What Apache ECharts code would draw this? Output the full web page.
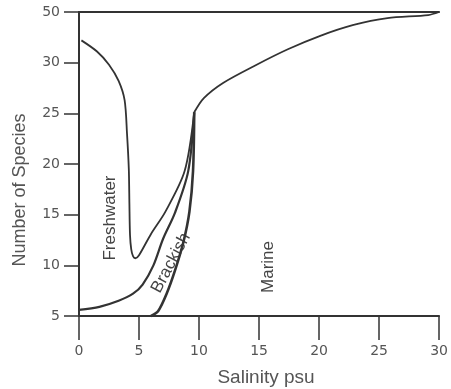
<!DOCTYPE html>
<html>
<head>
<meta charset="utf-8">
<script src="https://cdn.jsdelivr.net/npm/echarts@6/dist/echarts.min.js"></script>
<style>
  html, body { margin: 0; padding: 0; background: #fff; }
  #chart { width: 451px; height: 389px; }
</style>
</head>
<body>
<div id="chart"></div>
<script>
// salinity ticks and species ticks (the y axis is broken between 30 and 50)
var xTicks = [0, 5, 10, 15, 20, 25, 30];
var yTicks = [5, 10, 15, 20, 25, 30, 50];
var yBreakGap = [30.9, 32.9]; // gap in the left axis line, axis units

// curves as [salinity, number of species]
var freshwater = [[0.2, 38.8], [1.5, 34.4], [2.5, 29.8], [3.3, 28.2], [3.8, 26.3], [4.0, 23.0],
  [4.15, 19.5], [4.2, 16.0], [4.25, 13.0], [4.35, 11.6], [4.5, 10.9], [4.7, 10.7],
  [5.0, 11.0], [6.0, 13.1], [7.2, 15.3], [8.8, 19.3], [9.6, 25.1]];
var brackishUpper = [[0, 5.6], [1.7, 5.9], [3.3, 6.5], [4.5, 7.2], [5.3, 8.1], [6.2, 10.0],
  [7.0, 12.6], [8.0, 15.2], [9.1, 19.3], [9.6, 25.1]];
var brackishLower = [[6.0, 5.0], [6.6, 5.5], [7.3, 7.2], [8.0, 9.5], [8.7, 12.3], [9.2, 15.3],
  [9.5, 19.3], [9.6, 25.1]];
var marine = [[9.6, 25.1], [10.4, 26.5], [12.0, 28.0], [14.8, 29.8], [17.4, 35.3], [20.1, 40.6],
  [22.8, 44.8], [25.7, 47.6], [29.1, 48.8], [30, 50]];

// 30..50 is squeezed into one tick step
function toAxis(v) {
  return v <= 30 ? v : 30 + (v - 30) / 4;
}
function fromAxis(v) {
  return v <= 30 ? v : 30 + (v - 30) * 4;
}
function conv(arr) {
  return arr.map(function (p) { return [p[0], toAxis(p[1])]; });
}

var lineColor = '#333';
var textColor = '#555';

function curve(data, width) {
  return {
    type: 'line',
    data: conv(data),
    smooth: 0.3,
    symbol: 'none',
    clip: false,
    silent: true,
    lineStyle: { color: lineColor, width: width }
  };
}

var chart = echarts.init(document.getElementById('chart'));
chart.setOption({
  backgroundColor: '#fff',
  animation: false,
  grid: { left: 79, right: 9, top: 12, bottom: 73 },
  xAxis: [{
    type: 'value',
    min: xTicks[0],
    max: xTicks[xTicks.length - 1],
    interval: 5,
    axisLine: { show: true, lineStyle: { color: lineColor, width: 2 } },
    axisTick: { show: true, length: 24, lineStyle: { color: lineColor, width: 1.5 } },
    axisLabel: { margin: 28, color: textColor, fontFamily: 'DejaVu Sans', fontSize: 14 },
    splitLine: { show: false }
  }, {
    type: 'value',
    position: 'top',
    min: 0, max: 30,
    axisLine: { show: true, lineStyle: { color: lineColor, width: 2 } },
    axisTick: { show: false }, axisLabel: { show: false }, splitLine: { show: false }
  }],
  yAxis: [{
    type: 'value',
    min: yTicks[0],
    max: toAxis(yTicks[yTicks.length - 1]),
    interval: 5,
    axisLine: { show: false },
    axisTick: { show: true, length: 15, lineStyle: { color: lineColor, width: 1.5 } },
    axisLabel: {
      margin: 19, color: textColor, fontFamily: 'DejaVu Sans', fontSize: 14,
      formatter: function (v) { return String(fromAxis(v)); }
    },
    splitLine: { show: false }
  }, {
    type: 'value',
    position: 'right',
    min: 5, max: 35,
    axisLine: { show: true, lineStyle: { color: lineColor, width: 2 } },
    axisTick: { show: false }, axisLabel: { show: false }, splitLine: { show: false }
  }],
  series: [
    // left axis drawn in two pieces to show the break
    {
      type: 'line', symbol: 'none', clip: false, silent: true, connectNulls: false,
      data: [[0, yTicks[0]], [0, yBreakGap[0]], [0, '-'], [0, yBreakGap[1]], [0, toAxis(50)]],
      lineStyle: { color: lineColor, width: 2 }
    },
    curve(freshwater, 1.8),
    curve(brackishUpper, 2.2),
    curve(brackishLower, 2.6),
    curve(marine, 1.8)
  ],
  graphic: [
    { type: 'text', x: 20, y: 190, rotation: Math.PI / 2, style: { text: 'Number of Species', fill: textColor, font: '18px "Liberation Sans"', align: 'center', verticalAlign: 'middle' } },
    { type: 'text', x: 266, y: 378, style: { text: 'Salinity psu', fill: textColor, font: '19px "Liberation Sans"', align: 'center', verticalAlign: 'middle' } },
    { type: 'text', x: 110, y: 218, rotation: Math.PI / 2, style: { text: 'Freshwater', fill: '#444', font: '17px "Liberation Sans"', align: 'center', verticalAlign: 'middle' } },
    { type: 'text', x: 171, y: 263, rotation: 62 * Math.PI / 180, style: { text: 'Brackish', fill: '#444', font: '17px "Liberation Sans"', align: 'center', verticalAlign: 'middle' } },
    { type: 'text', x: 268, y: 267, rotation: Math.PI / 2, style: { text: 'Marine', fill: '#444', font: '17px "Liberation Sans"', align: 'center', verticalAlign: 'middle' } }
  ]
});
</script>
</body>
</html>
